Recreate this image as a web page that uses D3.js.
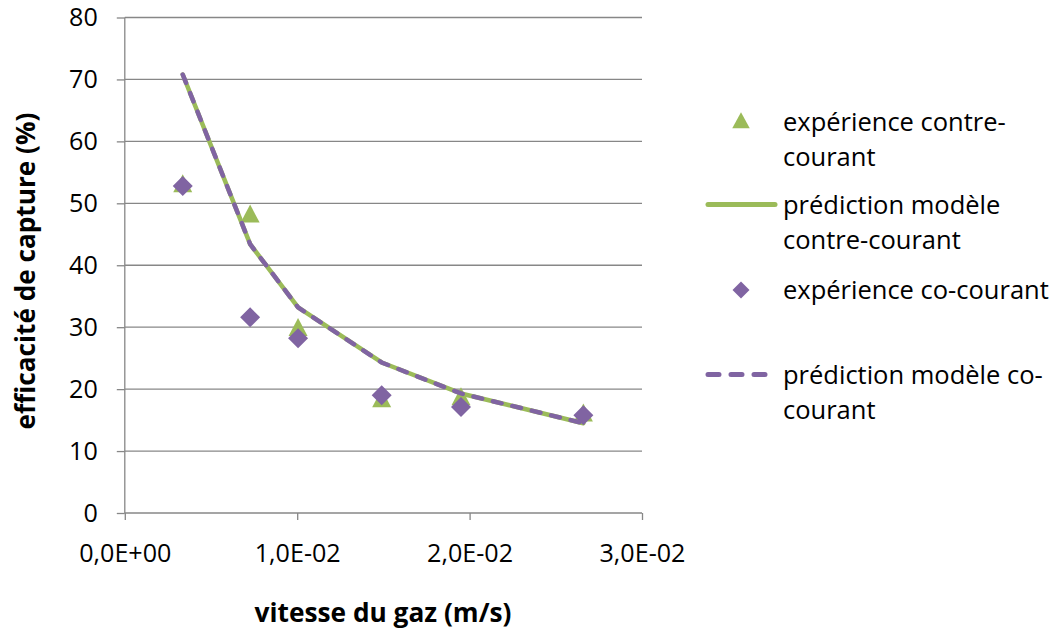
<!DOCTYPE html>
<html><head><meta charset="utf-8">
<script src="https://cdn.jsdelivr.net/npm/d3@7"></script>
<style>body{margin:0;background:#fff}svg{display:block}</style>
</head><body><svg id="c" width="1054" height="633"></svg>
<script>
const xVals = [0.00336, 0.00727, 0.01005, 0.0149, 0.0195, 0.0266];
const expContre = [53.1, 48.2, 29.9, 18.4, 18.7, 16.1];
const predContre = [70.8, 43.4, 33.2, 24.3, 19.3, 14.5];
const expCo = [52.8, 31.6, 28.2, 19.0, 17.1, 15.8];
const predCo = [70.8, 43.4, 33.2, 24.3, 19.3, 14.5];
const xTicks = [0, 0.01, 0.02, 0.03];
const xTickLabels = ["0,0E+00", "1,0E-02", "2,0E-02", "3,0E-02"];
const yTicks = [0, 10, 20, 30, 40, 50, 60, 70, 80];
const legendLabels = [["expérience contre-", "courant"], ["prédiction modèle", "contre-courant"], ["expérience co-courant"], ["prédiction modèle co-", "courant"]];

const FONT = "'Open Sans', 'Noto Sans', sans-serif";
const green = "#9BBB59", purple = "#8064A2", grid = "#878787";
const svg = d3.select("#c");
const x = d3.scaleLinear().domain([0, 0.03]).range([124.8, 642]);
const y = d3.scaleLinear().domain([0, 80]).range([513, 17.5]);

// fit a font size so that a reference text gets a target width
function fitSize(text, target, weight) {
  const t = svg.append("text").attr("font-family", FONT).attr("font-size", 100)
    .attr("font-weight", weight || "normal").text(text);
  const w = t.node().getComputedTextLength();
  t.remove();
  return 100 * target / w;
}
const tickFs = fitSize("1,0E-02", 86);
const legFs = fitSize("expérience co-courant", 266);
const xTitleFs = fitSize("vitesse du gaz (m/s)", 257, "bold");
const yTitleFs = fitSize("efficacité de capture (%)", 317, "bold");

// gridlines
svg.append("g").selectAll("line").data(yTicks.filter(d => d > 0)).join("line")
  .attr("x1", x(0)).attr("x2", x(0.03)).attr("y1", d => y(d)).attr("y2", d => y(d))
  .attr("stroke", grid).attr("stroke-width", 1.3);

// y axis
const ya = svg.append("g").attr("transform", `translate(${x(0)},0)`)
  .call(d3.axisLeft(y).tickValues(yTicks).tickSize(8).tickPadding(19).tickFormat(d3.format("d")));
// x axis
const xa = svg.append("g").attr("transform", `translate(0,${y(0)})`)
  .call(d3.axisBottom(x).tickValues(xTicks).tickSize(7).tickPadding(24).tickFormat((d, i) => xTickLabels[i]));
[ya, xa].forEach(a => {
  a.select(".domain").attr("stroke", grid).attr("stroke-width", 1.3);
  a.selectAll(".tick line").attr("stroke", grid).attr("stroke-width", 1.3);
  a.selectAll("text").attr("font-size", tickFs).attr("font-family", FONT).attr("fill", "#000");
});
xa.select(".domain").attr("d", `M${x(0)},0H${x(0.03)}`);
ya.select(".domain").attr("d", `M0,${y(80)}V${y(0)}`);
ya.selectAll(".tick line").attr("x2", -8).attr("x1", 0);

// titles
svg.append("text").attr("transform", "translate(35,271) rotate(-90)").attr("text-anchor", "middle")
  .attr("font-family", FONT).attr("font-size", yTitleFs).attr("font-weight", "bold").text("efficacité de capture (%)");
svg.append("text").attr("x", 383).attr("y", 622).attr("text-anchor", "middle")
  .attr("font-family", FONT).attr("font-size", xTitleFs).attr("font-weight", "bold").text("vitesse du gaz (m/s)");

const line = d3.line().x(d => x(d[0])).y(d => y(d[1]));
const ptsPC = xVals.map((v, i) => [v, predContre[i]]);
const ptsPCo = xVals.map((v, i) => [v, predCo[i]]);

const triPath = (w, h) => `M0,${-h * 0.55}L${w / 2},${h * 0.45}L${-w / 2},${h * 0.45}Z`;
const dia = (d) => `M0,${-d}L${d},0L0,${d}L${-d},0Z`;

// experience contre-courant triangles
svg.append("g").selectAll("path").data(xVals.map((v, i) => [v, expContre[i]])).join("path")
  .attr("d", triPath(19, 18)).attr("transform", d => `translate(${x(d[0])},${y(d[1])})`).attr("fill", green);
// prediction contre-courant (solid green)
svg.append("path").attr("d", line(ptsPC)).attr("fill", "none").attr("stroke", green)
  .attr("stroke-width", 4.5).attr("stroke-linejoin", "round").attr("stroke-linecap", "round");
// experience co-courant diamonds
svg.append("g").selectAll("path").data(xVals.map((v, i) => [v, expCo[i]])).join("path")
  .attr("d", dia(10)).attr("transform", d => `translate(${x(d[0])},${y(d[1])})`).attr("fill", purple);
// prediction co-courant (dashed purple)
svg.append("path").attr("d", line(ptsPCo)).attr("fill", "none").attr("stroke", purple).attr("stroke-width", 4.5)
  .attr("stroke-dasharray", "9,11").attr("stroke-linecap", "round");

// legend
const lg = svg.append("g");
const lx = 783;
const rows = [[122, 157], [205, 240], [290], [375, 410]];
legendLabels.forEach((lines, i) => {
  lines.forEach((t, j) => lg.append("text").attr("x", lx).attr("y", rows[i][j]).attr("dy", "0.35em")
    .attr("font-family", FONT).attr("font-size", legFs).attr("fill", "#000").text(t));
});
lg.append("path").attr("d", triPath(17.5, 16)).attr("transform", "translate(741,121)").attr("fill", green);
lg.append("line").attr("x1", 708).attr("x2", 775).attr("y1", 204.5).attr("y2", 204.5)
  .attr("stroke", green).attr("stroke-width", 5).attr("stroke-linecap", "round");
lg.append("path").attr("d", dia(8.5)).attr("transform", "translate(741,290)").attr("fill", purple);
lg.append("line").attr("x1", 708).attr("x2", 766).attr("y1", 374.5).attr("y2", 374.5)
  .attr("stroke", purple).attr("stroke-width", 5).attr("stroke-linecap", "round").attr("stroke-dasharray", "11,12");
</script></body></html>
